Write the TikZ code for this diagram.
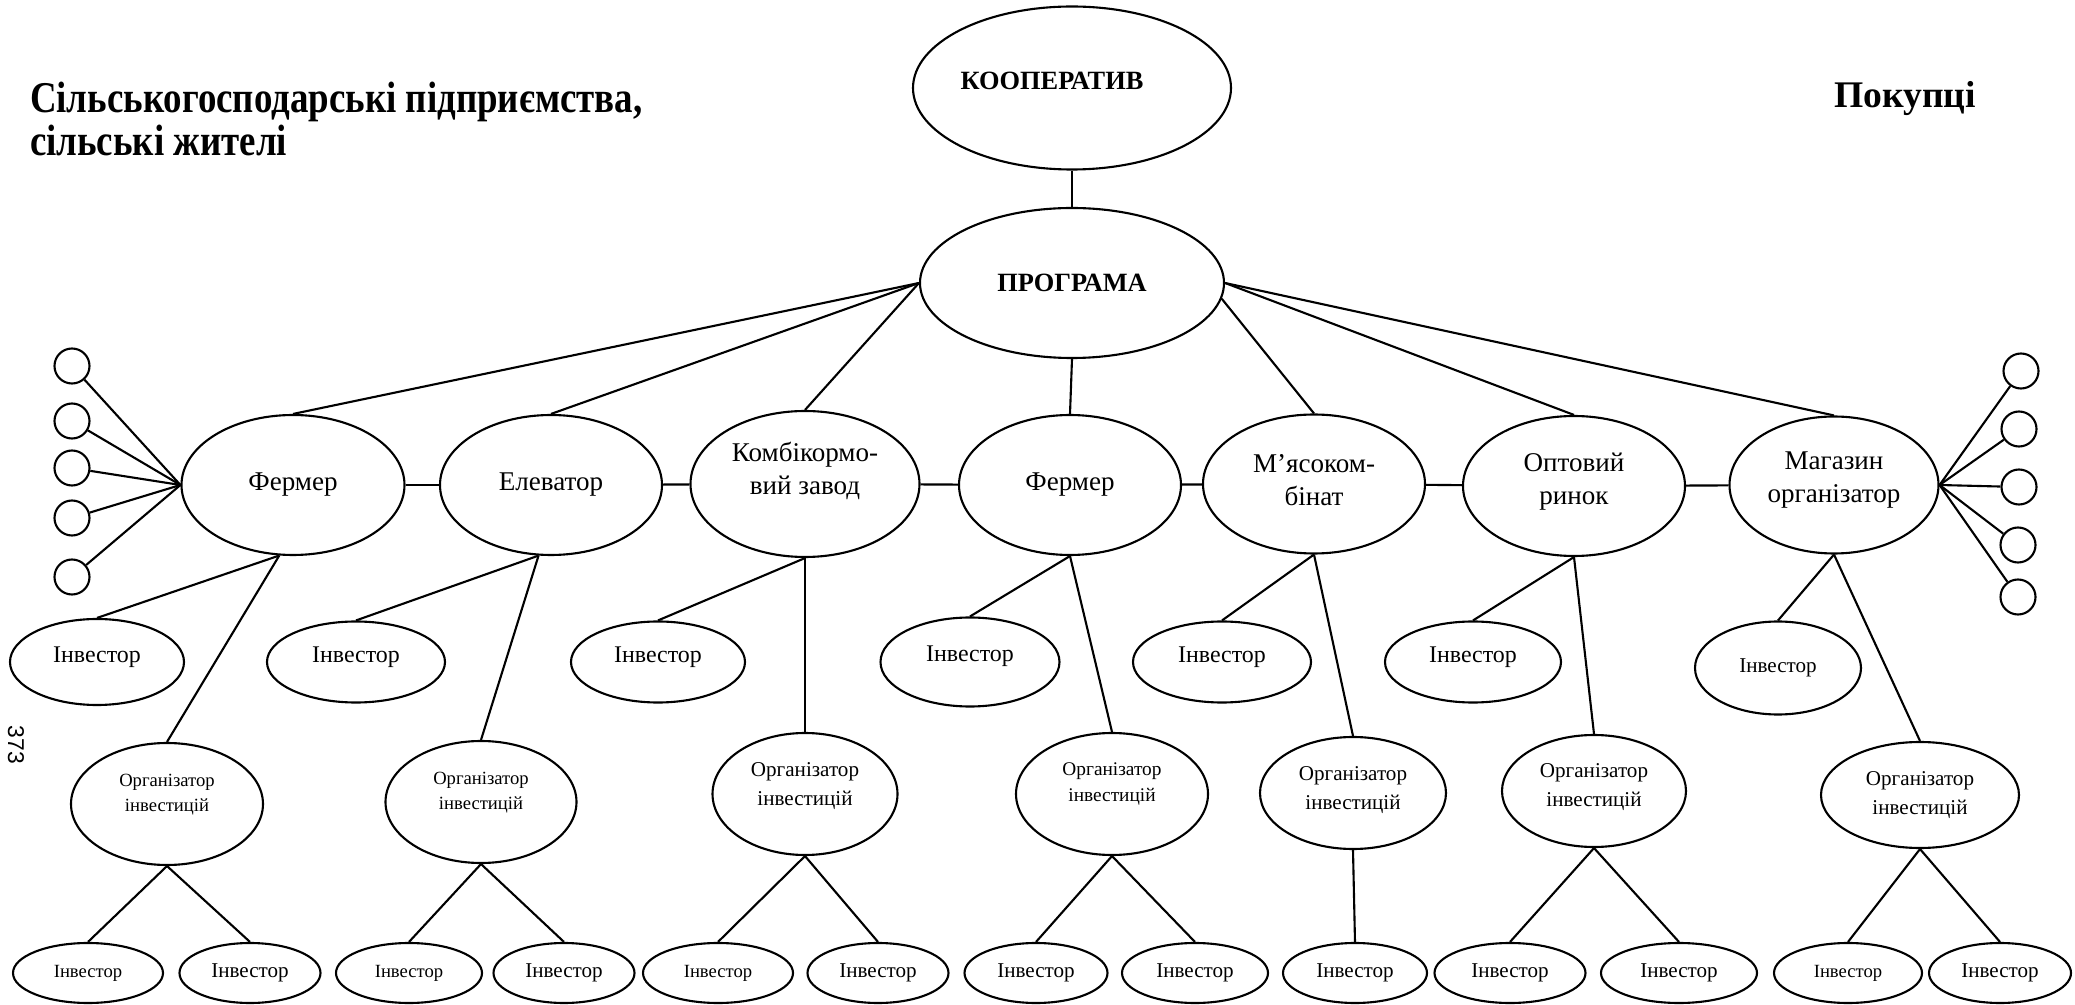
\documentclass[tikz,border=0pt]{standalone}
\usepackage{fontspec}
\setmainfont{Liberation Serif}
\newfontfamily\titlefont{Liberation Serif}[FakeStretch=0.84]
\newfontfamily\pagefont{Liberation Sans}
\usetikzlibrary{shapes.geometric}
\newcommand{\lift}[2]{\raisebox{#1}[\height][\depth]{#2}}

\begin{document}
\begin{tikzpicture}[-,line width=0.6pt,
   every node/.style={inner sep=0pt},
   head/.style={draw,ellipse,font=\bfseries\fontsize{7.5}{9}\selectfont},
   unit/.style={draw,ellipse,align=center,minimum width=2.22cm,minimum height=1.4cm,
     font=\fontsize{7.7}{9.4}\selectfont},
   inv/.style={draw,ellipse,minimum width=1.76cm,minimum height=0.81cm,
     font=\fontsize{6.8}{8}\selectfont},
   org/.style={draw,ellipse,align=center,minimum width=1.86cm,minimum height=1.22cm,
     font=\fontsize{6}{8}\selectfont},
   tinyorg/.style={org,font=\fontsize{5.3}{7.1}\selectfont},
   last/.style={draw,ellipse,minimum width=1.44cm,minimum height=0.6cm,
     font=\fontsize{6}{8}\selectfont},
   tinylast/.style={last,font=\fontsize{5.3}{7}\selectfont},
   client/.style={draw,circle,minimum size=0.35cm},
   title/.style={align=left,font=\bfseries\fontsize{10.7}{10.8}\selectfont}]
  \useasboundingbox (0,0) rectangle (20.75,-10.05);

  \node[title,anchor=north west,font=\titlefont\bfseries\fontsize{12.5}{12.2}\selectfont]
    (farms) at (0.29,-0.81) {Сільськогосподарські підприємства,\\сільські жителі};
  \node[title,anchor=base west] (buyers) at (18.33,-1.08) {Покупці};
  \node[rotate=-90,font=\pagefont\fontsize{6.5}{7}\selectfont] (page) at (0.16,-7.45) {373};

  \node[head,minimum width=3.18cm,minimum height=1.63cm] (koop) at (10.72,-0.88)
    {\lift{0.07cm}{КООПЕРАТИВ}\hspace*{0.4cm}};
  \node[head,minimum width=3.04cm,minimum height=1.5cm] (prog) at (10.72,-2.83) {ПРОГРАМА};

  \node[unit,minimum width=2.23cm] (ferm1) at (2.93,-4.85) {Фермер};
  \node[unit] (elev) at (5.51,-4.85) {Елеватор};
  \node[unit,minimum width=2.29cm,minimum height=1.46cm] (kombi) at (8.05,-4.84)
    {\lift{0.13cm}{Комбікормо-}\\\lift{0.13cm}{вий завод}};
  \node[unit] (ferm2) at (10.70,-4.85) {Фермер};
  \node[unit,minimum height=1.39cm] (meat) at (13.14,-4.84)
    {\lift{0.04cm}{М’ясоком-}\\\lift{0.04cm}{бінат}};
  \node[unit] (market) at (15.74,-4.86) {\lift{0.04cm}{Оптовий}\\\lift{0.04cm}{ринок}};
  \node[unit,minimum width=2.09cm,minimum height=1.37cm] (shop) at (18.34,-4.85)
    {\lift{0.05cm}{Магазин}\\\lift{0.05cm}{організатор}};

  \node[client] (a1) at (0.72,-3.66) {};
  \node[client] (a2) at (0.72,-4.21) {};
  \node[client] (a3) at (0.72,-4.68) {};
  \node[client] (a4) at (0.72,-5.18) {};
  \node[client] (a5) at (0.72,-5.77) {};
  \node[client] (b1) at (20.21,-3.71) {};
  \node[client] (b2) at (20.19,-4.29) {};
  \node[client] (b3) at (20.19,-4.87) {};
  \node[client] (b4) at (20.18,-5.45) {};
  \node[client] (b5) at (20.18,-5.97) {};

  \node[inv,minimum width=1.74cm,minimum height=0.86cm] (inv1) at (0.97,-6.62) {\lift{0.05cm}{Інвестор}};
  \node[inv,minimum width=1.78cm] (inv2) at (3.56,-6.62) {\lift{0.05cm}{Інвестор}};
  \node[inv,minimum width=1.74cm] (inv3) at (6.58,-6.62) {\lift{0.05cm}{Інвестор}};
  \node[inv,minimum width=1.79cm,minimum height=0.89cm] (inv4) at (9.70,-6.62) {\lift{0.06cm}{Інвестор}};
  \node[inv,minimum width=1.78cm] (inv5) at (12.22,-6.62) {\lift{0.05cm}{Інвестор}};
  \node[inv] (inv6) at (14.73,-6.62) {\lift{0.05cm}{Інвестор}};
  \node[inv,minimum width=1.66cm,minimum height=0.93cm,font=\fontsize{6}{8}\selectfont]
    (inv7) at (17.78,-6.68) {Інвестор};

  \node[tinyorg,minimum width=1.92cm] (org1) at (1.67,-8.04)
    {\lift{0.09cm}{Організатор}\\\lift{0.09cm}{інвестицій}};
  \node[tinyorg,minimum width=1.91cm] (org2) at (4.81,-8.02)
    {\lift{0.09cm}{Організатор}\\\lift{0.09cm}{інвестицій}};
  \node[org,minimum width=1.85cm] (org3) at (8.05,-7.94)
    {\lift{0.08cm}{Організатор}\\\lift{0.08cm}{інвестицій}};
  \node[tinyorg,minimum width=1.92cm,font=\fontsize{5.5}{7.2}\selectfont] (org4) at (11.12,-7.94)
    {\lift{0.1cm}{Організатор}\\\lift{0.1cm}{інвестицій}};
  \node[org,minimum height=1.12cm] (org5) at (13.53,-7.93)
    {\lift{0.03cm}{Організатор}\\\lift{0.03cm}{інвестицій}};
  \node[org,minimum width=1.84cm,minimum height=1.12cm] (org6) at (15.94,-7.91)
    {\lift{0.04cm}{Організатор}\\\lift{0.04cm}{інвестицій}};
  \node[org,minimum width=1.98cm,minimum height=1.06cm] (org7) at (19.20,-7.95)
    {Організатор\\інвестицій};

  \node[tinylast,minimum width=1.5cm] (x1) at (0.88,-9.73) {Інвестор};
  \node[last,minimum width=1.41cm] (y1) at (2.50,-9.73) {Інвестор};
  \node[tinylast,minimum width=1.46cm] (x2) at (4.09,-9.73) {Інвестор};
  \node[last,minimum width=1.41cm] (y2) at (5.64,-9.73) {Інвестор};
  \node[tinylast,minimum width=1.5cm] (x3) at (7.18,-9.73) {Інвестор};
  \node[last,minimum width=1.41cm] (y3) at (8.78,-9.73) {Інвестор};
  \node[last,minimum width=1.43cm] (x4) at (10.36,-9.73) {Інвестор};
  \node[last,minimum width=1.46cm] (y4) at (11.95,-9.73) {Інвестор};
  \node[last] (x5) at (13.55,-9.73) {Інвестор};
  \node[last,minimum width=1.51cm] (x6) at (15.10,-9.73) {Інвестор};
  \node[last,minimum width=1.56cm] (y6) at (16.79,-9.73) {Інвестор};
  \node[tinylast,minimum width=1.48cm] (x7) at (18.48,-9.73) {Інвестор};
  \node[last,minimum width=1.42cm] (y7) at (20.00,-9.73) {Інвестор};

  \path
   (koop) edge (prog)
   (prog.west) edge (ferm1.north)
   (prog.west) edge (elev.north)
   (prog.west) edge (kombi.north)
   (prog.south) edge (ferm2.north)
   (prog.-6) edge (meat.north)
   (prog.east) edge (market.north)
   (prog.east) edge (shop.north)
   (ferm1) edge (elev)
   (elev) edge (kombi)
   (kombi) edge (ferm2)
   (ferm2) edge (meat)
   (meat) edge (market)
   (market) edge (shop);
  \path
   (a1) edge (ferm1.west)
   (a2) edge (ferm1.west)
   (a3) edge (ferm1.west)
   (a4) edge (ferm1.west)
   (a5) edge (ferm1.west)
   (b1) edge (shop.east)
   (b2) edge (shop.east)
   (b3) edge (shop.east)
   (b4) edge (shop.east)
   (b5) edge (shop.east);
  \path
   (ferm1.259) edge (inv1.north)
   (ferm1.259) edge (org1.north)
   (elev.260) edge (inv2.north)
   (elev.260) edge (org2.north)
   (kombi.south) edge (inv3.north)
   (kombi.south) edge (org3.north)
   (ferm2.south) edge (inv4.north)
   (ferm2.south) edge (org4.north)
   (meat.south) edge (inv5.north)
   (meat.south) edge (org5.north)
   (market.south) edge (inv6.north)
   (market.south) edge (org6.north)
   (shop.south) edge (inv7.north)
   (shop.south) edge (org7.north);
  \path
   (org1.south) edge (x1.north)
   (org1.south) edge (y1.north)
   (org2.south) edge (x2.north)
   (org2.south) edge (y2.north)
   (org3.south) edge (x3.north)
   (org3.south) edge (y3.north)
   (org4.south) edge (x4.north)
   (org4.south) edge (y4.north)
   (org5.south) edge (x5.north)
   (org6.south) edge (x6.north)
   (org6.south) edge (y6.north)
   (org7.south) edge (x7.north)
   (org7.south) edge (y7.north);
\end{tikzpicture}
\end{document}
